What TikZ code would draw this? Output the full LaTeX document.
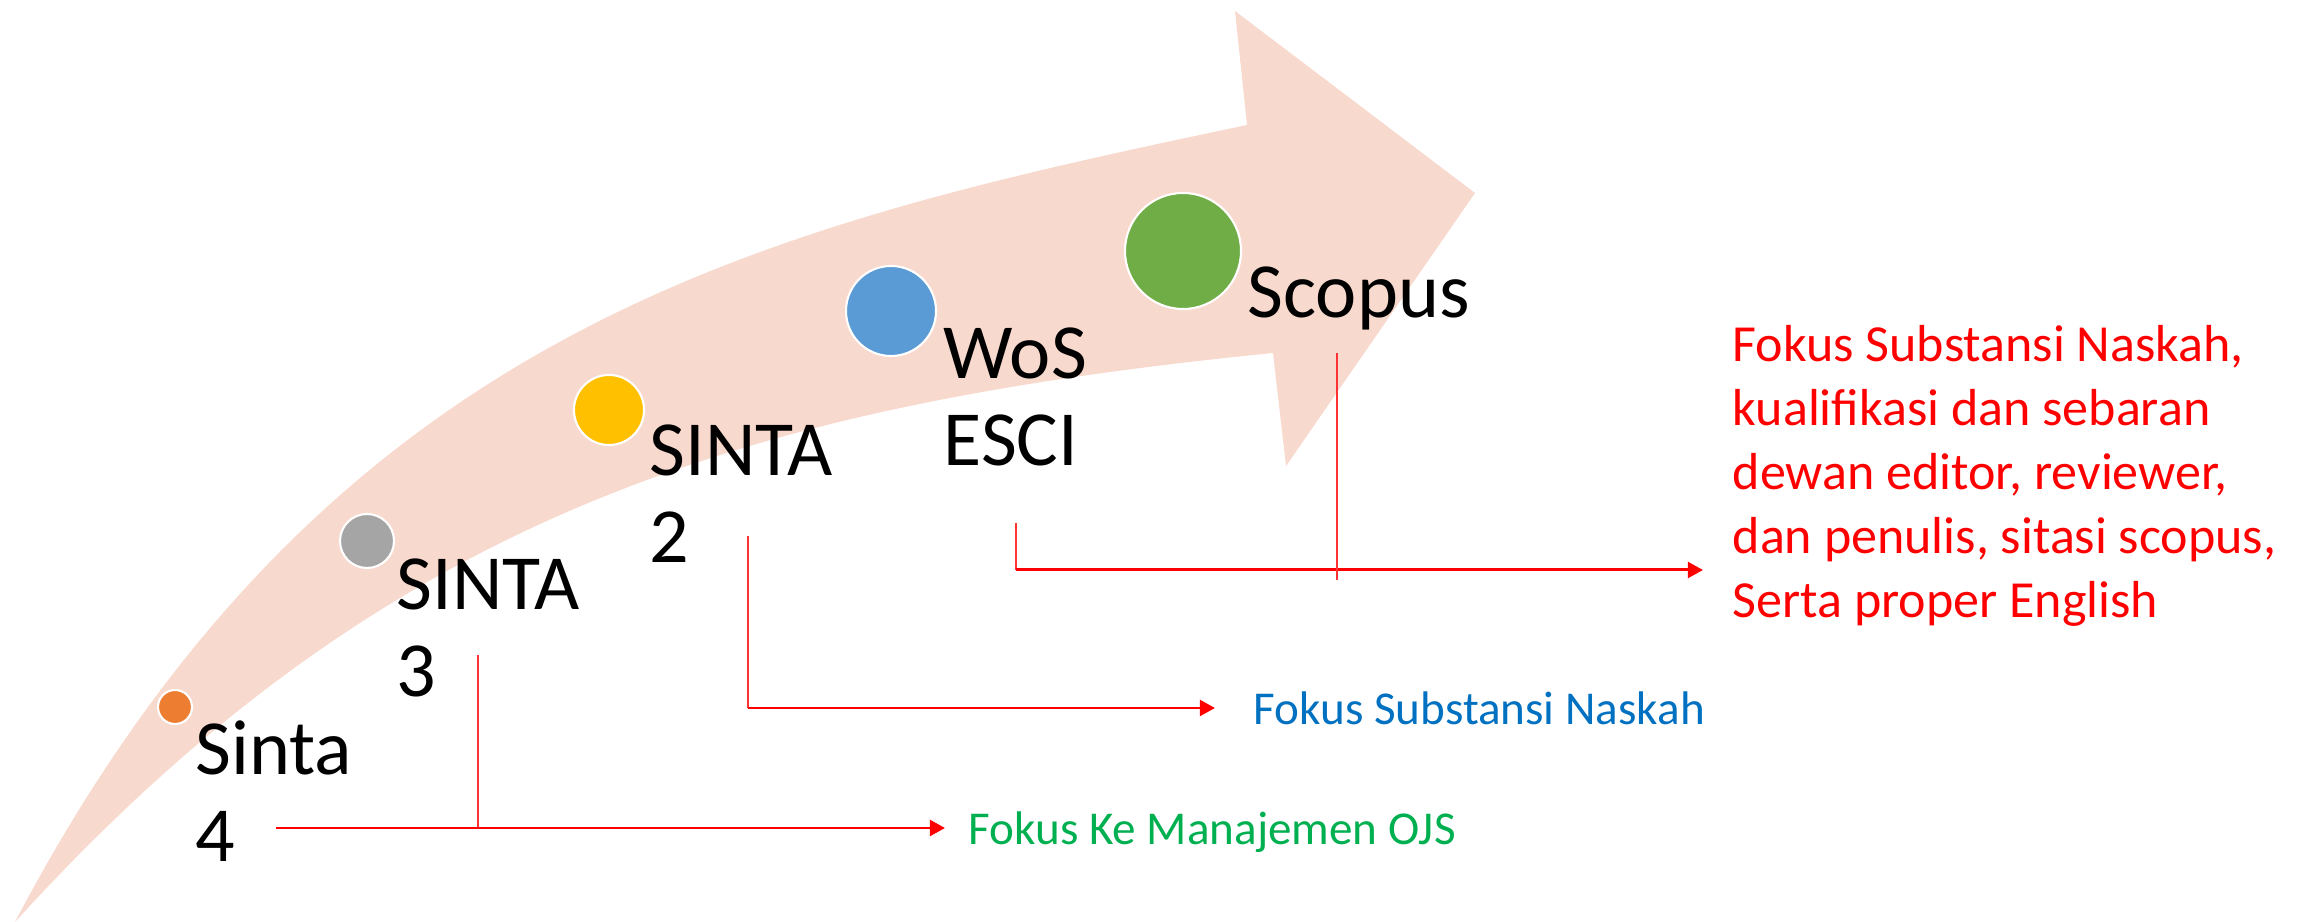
\documentclass[tikz,border=0pt]{standalone}
\usepackage{fontspec}
\setmainfont{Carlito}
\usetikzlibrary{arrows.meta}
\definecolor{bandpink}{RGB}{248,217,206}
\definecolor{dotorange}{RGB}{237,125,49}
\definecolor{dotgray}{RGB}{165,165,165}
\definecolor{dotyellow}{RGB}{255,192,0}
\definecolor{dotblue}{RGB}{91,155,213}
\definecolor{dotgreen}{RGB}{112,173,71}
\definecolor{txtblue}{RGB}{0,112,192}
\definecolor{txtgreen}{RGB}{0,176,80}
\begin{document}
\begin{tikzpicture}[x=0.01cm,y=-0.01cm,
        dot/.style={circle,draw=white,line width=0.6pt,inner sep=0pt},
        tier/.style={anchor=base west,inner sep=0pt,align=left,font=\fontsize{22.2}{25}\selectfont},
        focus/.style={anchor=base west,inner ysep=0pt,inner xsep=#1,align=left},
        drop/.style={draw=red!80!white,line width=0.35pt},
        link/.style={draw=red,line width=0.85pt,-{Triangle[length=4.3pt,width=4.5pt]}}]
    \useasboundingbox (0,0) rectangle (2311,922);
    \fill[bandpink] (15,922) .. controls (330,323) and (767,226) .. (1247,125)
        -- (1235,11) -- (1475,193) -- (1286,466) -- (1273,353)
        .. controls (743,406) and (385,515) .. (15,922) -- cycle;
    \node[dot,fill=dotorange,minimum size=0.34cm] (c4) at (175,707) {};
    \node[dot,fill=dotgray,minimum size=0.54cm] (c3) at (367,541) {};
    \node[dot,fill=dotyellow,minimum size=0.70cm] (c2) at (609,410) {};
    \node[dot,fill=dotblue,minimum size=0.90cm] (cwos) at (891,311) {};
    \node[dot,fill=dotgreen,minimum size=1.16cm] (cscopus) at (1183,251) {};
    \node[tier] (t4) at (195,862) {Sinta\\4};
    \node[tier] (t3) at (396,697) {SINTA\\3};
    \node[tier] (t2) at (649,563) {SINTA\\2};
    \node[tier] (twos) at (943,466) {WoS\\ESCI};
    \node[tier] (tscopus) at (1247,318) {Scopus};
    \node[focus=0.23cm,text=txtgreen,font=\fontsize{13.4}{16}\selectfont] (ojs) at (945,845) {Fokus Ke Manajemen OJS};
    \node[focus=0.38cm,text=txtblue,font=\fontsize{13.4}{16}\selectfont] (naskah) at (1215,725) {Fokus Substansi Naskah};
    \node[focus=0.29cm,text=red,font=\fontsize{14.8}{18.2}\selectfont] (full) at (1703,618)
        {Fokus Substansi Naskah,\\kualifikasi dan sebaran\\dewan editor, reviewer,\\dan penulis, sitasi scopus,\\Serta proper English};
    \coordinate (h4) at (276,828);
    \coordinate (v3) at (478,655);
    \coordinate (v2) at (748,536);
    \coordinate (k2) at (748,708);
    \coordinate (vw) at (1016,523);
    \coordinate (kw) at (1016,570);
    \coordinate (vs) at (1337,353);
    \coordinate (vse) at (1337,580);
    \draw[drop] (v3) -- (v3 |- h4);
    \draw[link] (h4) -- (h4 -| ojs.west);
    \draw[drop] (v2) -- (k2);
    \draw[link] (k2) -- (k2 -| naskah.west);
    \draw[drop] (vw) -- (kw);
    \draw[link] (kw) -- (kw -| full.west);
    \draw[drop] (vs) -- (vse);
\end{tikzpicture}
\end{document}
